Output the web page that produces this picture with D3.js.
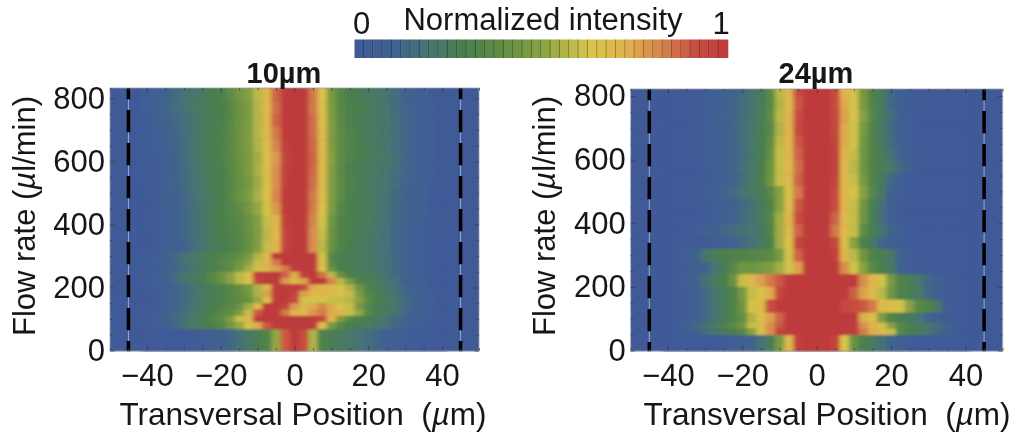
<!DOCTYPE html>
<html>
<head>
<meta charset="utf-8">
<script src="https://cdn.jsdelivr.net/npm/d3@7"></script>
<style>
    html, body { margin: 0; padding: 0; background: #fff; }
    svg { display: block; }
    text { font-family: "Liberation Sans", Arial, sans-serif; fill: #161616; }
    .domain { display: none; }
    .tick line { stroke: #3a3a3a; stroke-width: 0.7; }
</style>
</head>
<body>
<div id="chart"></div>
<script>
// =======================
// Data
// =======================
// transversal position of each column, um
const positions = [-40, -37.5, -35, -32.5, -30, -27.5, -25, -22.5, -20, -17.5, -15, -12.5, -10, -7.5, -5, -2.5, 0,
    2.5, 5, 7.5, 10, 12.5, 15, 17.5, 20, 22.5, 25, 27.5, 30, 32.5, 35, 37.5, 40];

const channelWalls = [-45, 45];

const xMajor = [-40, -20, 0, 20, 40];
const xMinor = [-50, -45, -35, -30, -25, -15, -10, -5, 5, 10, 15, 25, 30, 35, 45, 50];
const yMajor = [0, 200, 400, 600, 800];
const yMinor = [50, 100, 150, 250, 300, 350, 450, 500, 550, 650, 700, 750];

// row edges in ul/min, top to bottom (one more than rows)
const edges10 = [850, 790, 750, 710, 670, 630, 590, 550, 510, 470, 430, 390, 350, 310,
    290, 270, 250, 230, 210, 190, 170, 150, 130, 110, 90, 67, -20];

// intensity in percent, top row first
const intensity10 = [
    [3,8,12,15,18,21,24,28,31,38,45,49,58,72,88,100,100,100,84,64,46,35,30,28,24,22,19,16,12,8,5,2,0],
    [4,9,13,16,19,22,25,28,30,36,42,47,57,70,86,100,100,100,84,66,47,36,31,29,26,23,20,16,13,9,5,3,0],
    [2,6,10,14,17,20,24,27,30,36,43,47,57,71,88,100,100,100,86,68,48,37,31,28,25,23,20,17,13,9,6,3,0],
    [1,5,9,13,17,20,24,28,31,37,43,48,57,70,84,100,100,100,86,70,48,38,32,29,25,22,20,17,14,10,6,3,0],
    [1,5,9,12,16,20,24,28,31,37,43,48,56,68,82,98,100,100,87,70,48,38,33,30,26,24,20,17,14,10,6,3,0],
    [1,4,8,12,16,20,24,27,31,36,42,47,54,66,78,96,100,100,88,72,50,38,32,29,26,24,22,18,14,10,7,3,0],
    [1,4,8,12,15,19,23,27,30,36,41,47,55,68,80,97,100,100,87,70,48,37,31,28,25,22,20,17,13,10,6,3,0],
    [0,3,7,11,15,19,23,27,30,35,41,45,53,67,80,98,100,100,86,70,48,38,32,28,25,22,20,16,13,9,5,2,0],
    [0,3,7,10,14,18,22,26,30,36,42,47,55,66,82,100,100,100,84,68,48,38,31,27,25,22,19,15,12,8,5,2,0],
    [0,2,6,10,13,17,22,26,30,34,39,45,52,62,78,100,100,100,84,66,47,35,31,28,25,22,19,15,12,8,5,2,0],
    [0,2,5,9,13,17,21,26,30,33,36,42,49,60,72,98,100,100,82,62,44,33,30,28,25,21,18,14,11,8,4,2,0],
    [0,2,5,9,13,17,21,25,29,32,35,41,48,58,70,96,100,100,80,60,43,33,30,27,24,21,17,14,11,7,4,2,0],
    [0,2,5,8,12,16,20,24,28,31,35,41,49,60,72,96,100,100,80,58,42,32,29,26,23,20,17,14,10,6,3,1,0],
    [1,5,10,14,19,23,26,30,33,36,40,46,56,70,100,100,100,100,100,62,34,28,27,26,24,21,18,15,11,7,3,1,0],
    [1,4,9,13,18,22,27,31,35,39,44,50,60,72,84,100,100,100,100,66,36,30,28,26,24,21,18,15,11,7,3,1,0],
    [1,4,9,13,17,21,25,29,33,38,46,54,62,72,76,84,100,100,100,64,42,30,27,26,24,21,18,14,10,6,3,1,0],
    [1,5,10,15,20,24,28,34,42,50,58,70,100,100,100,88,74,98,100,86,58,42,31,28,26,23,19,15,11,7,4,1,0],
    [1,5,10,15,19,23,28,34,42,50,58,66,95,100,100,78,72,76,100,100,82,58,46,33,28,25,21,16,12,8,4,2,0],
    [0,3,7,11,15,19,23,27,31,36,40,46,56,70,100,100,100,92,74,72,70,62,56,44,32,27,23,18,13,9,5,2,0],
    [0,3,7,11,15,19,23,27,31,35,39,44,56,76,100,100,96,76,72,72,70,66,60,48,34,28,24,19,14,10,6,3,0],
    [0,3,7,11,15,19,23,27,30,34,38,42,52,66,100,100,94,66,62,62,60,60,58,50,38,30,25,20,15,11,6,3,0],
    [0,3,8,12,16,20,24,28,32,36,42,54,70,100,100,96,78,70,74,82,74,64,60,46,34,28,24,20,15,11,6,3,0],
    [1,4,9,13,17,21,25,30,34,40,48,60,90,100,100,84,72,70,78,84,74,72,60,52,36,29,24,19,14,10,6,3,0],
    [1,5,10,15,19,24,28,33,38,48,60,72,100,100,100,100,100,100,100,92,72,48,36,31,27,23,19,15,11,8,4,2,0],
    [1,4,9,13,18,22,26,30,35,44,52,62,74,90,100,100,100,100,100,66,46,34,30,27,25,21,18,14,10,6,3,1,0],
    [0,0,0,0,0,2,4,7,10,13,18,23,28,33,52,90,100,92,56,32,28,25,22,19,16,13,9,6,3,1,0,0,0]
];

const edges24 = [850, 797, 757, 717, 677, 637, 597, 557, 517, 477, 437, 397, 357, 320, 279, 240, 200, 160, 119, 88, 69, 48, -20];

const intensity24 = [
    [0,0,0,0,3,6,9,12,15,20,26,36,58,72,94,100,100,100,92,72,62,45,32,24,14,6,2,0,0,0,0,0,0],
    [0,0,0,0,3,6,9,13,16,20,26,36,56,70,90,100,100,100,92,74,62,46,33,25,14,6,2,0,0,0,0,0,0],
    [0,0,0,0,3,7,10,13,16,21,27,38,58,72,92,100,100,100,94,76,64,50,34,26,16,8,3,0,0,0,0,0,0],
    [0,0,0,1,4,7,10,13,17,21,27,36,56,72,94,100,100,100,94,74,62,46,33,24,15,7,3,0,0,0,0,0,0],
    [0,0,0,1,4,7,10,13,17,22,28,38,58,72,90,100,100,100,96,74,62,44,32,24,16,8,3,0,0,0,0,0,0],
    [0,0,0,0,3,6,9,12,16,21,28,40,60,72,88,100,100,100,98,72,60,44,32,26,18,10,4,0,0,0,0,0,0],
    [0,0,0,0,3,6,9,13,17,22,29,42,60,70,86,100,100,100,98,70,58,44,32,27,22,15,5,1,0,0,0,0,0],
    [0,0,0,0,2,5,8,12,16,22,30,44,60,70,88,100,100,100,96,70,60,46,32,24,14,6,2,0,0,0,0,0,0],
    [0,0,0,1,3,6,11,15,19,23,27,36,50,62,84,100,100,100,92,70,62,50,34,22,10,3,0,0,0,0,0,0,0],
    [0,0,0,0,2,4,7,10,14,18,24,32,50,68,90,100,100,100,92,72,60,44,30,18,8,2,0,0,0,0,0,0,0],
    [0,0,0,0,2,4,8,11,15,19,26,34,54,72,92,100,100,100,88,70,60,44,28,16,6,1,0,0,0,0,0,0,0],
    [0,0,1,3,7,10,14,16,18,20,24,32,54,70,88,100,100,100,84,70,60,38,28,20,12,6,2,0,0,0,0,0,0],
    [0,0,0,0,0,3,7,10,14,18,22,30,54,64,96,100,100,100,94,68,50,30,22,14,6,2,0,0,0,0,0,0,0],
    [0,2,6,12,20,26,30,32,32,34,36,38,46,62,88,100,100,100,98,72,58,44,32,28,22,10,3,0,0,0,0,0,0],
    [0,0,2,6,12,20,26,36,44,44,46,48,54,62,76,100,100,100,100,80,62,50,36,30,24,12,3,0,0,0,0,0,0],
    [0,2,6,12,18,24,30,42,60,72,76,84,90,100,100,100,100,100,100,100,100,80,72,62,46,33,28,22,14,8,3,0,0],
    [0,0,3,8,14,20,26,32,46,60,66,74,96,100,100,100,100,100,100,100,88,76,70,58,44,32,28,24,14,6,2,0,0],
    [0,0,3,8,14,20,26,33,44,62,68,92,100,100,100,100,100,100,100,94,92,90,84,70,68,62,50,36,32,22,6,0,0],
    [0,0,3,8,14,20,26,32,40,56,66,76,88,100,100,100,100,100,100,100,100,74,66,48,33,28,24,20,12,5,1,0,0],
    [0,3,8,14,20,24,32,38,44,60,70,80,90,100,100,100,100,100,100,100,100,80,72,62,50,36,30,26,22,16,10,3,0],
    [0,2,6,10,16,20,24,28,36,50,62,80,96,100,100,100,100,100,100,100,100,84,74,70,60,36,30,26,20,14,8,3,0],
    [0,0,0,0,0,0,2,5,8,12,18,26,46,70,98,100,100,100,96,64,42,30,24,18,12,7,3,0,0,0,0,0,0]
];

// =======================
// Colour map, as in the colour bar
// =======================
const colorStops = [0, 12, 20, 30, 40, 50, 55, 63, 72, 82, 92, 100];
const colorValues = ["#3f5a98", "#41648e", "#47756f", "#4a804c", "#628e42", "#86a042",
    "#a9b046", "#d8c64b", "#e0b54d", "#d6864e", "#c74c40", "#bf3b3b"];
const color = d3.scaleLinear().domain(colorStops).range(colorValues).clamp(true);

const barSegments = d3.range(40);

const width = 1016;
const height = 434;

const svg = d3.select("#chart")
    .append("svg")
    .attr("width", width)
    .attr("height", height);

const defs = svg.append("defs");

// the picture is a soft scan: columns melt together, rows stay sharper
defs.append("filter")
    .attr("id", "soft")
    .attr("x", "-5%").attr("y", "-5%").attr("width", "110%").attr("height", "110%")
    .append("feGaussianBlur")
    .attr("stdDeviation", "2.2 1");

defs.append("filter")
    .attr("id", "scan")
    .attr("filterUnits", "userSpaceOnUse")
    .attr("x", 0).attr("y", 0).attr("width", width).attr("height", height)
    .append("feGaussianBlur")
    .attr("stdDeviation", 0.4);

const root = svg.append("g").attr("filter", "url(#scan)");

// =======================
// Colour bar
// =======================
const barX = d3.scaleBand().domain(barSegments).range([354.5, 728]);
const bar = root.append("g").attr("class", "colorbar");

bar.selectAll("rect")
    .data(barSegments)
    .enter()
    .append("rect")
    .attr("x", d => barX(d))
    .attr("y", 39.5)
    .attr("width", barX.bandwidth() + 0.3)
    .attr("height", 18.5)
    .attr("fill", d => color((d + 0.5) * 100 / barSegments.length));

bar.selectAll("line")
    .data(barSegments.slice(1))
    .enter()
    .append("line")
    .attr("x1", d => barX(d) - 0.5)
    .attr("x2", d => barX(d) - 0.5)
    .attr("y1", 39.5)
    .attr("y2", 58)
    .attr("stroke", "#000")
    .attr("stroke-opacity", 0.3);

root.append("text").attr("x", 543).attr("y", 30).attr("text-anchor", "middle")
    .style("font-size", "31px").text("Normalized intensity");
root.append("text").attr("x", 361.5).attr("y", 34).attr("text-anchor", "middle")
    .style("font-size", "31px").text("0");
root.append("text").attr("x", 721).attr("y", 34).attr("text-anchor", "middle")
    .style("font-size", "31px").text("1");

// =======================
// One heat map panel
// =======================
function drawPanel(p) {
    const x = d3.scaleLinear().domain([-50, 50]).range([p.left, p.right]);
    const y = d3.scaleLinear().domain([0, 800]).range([p.y0, p.y800]);

    const g = root.append("g").attr("class", "panel");

    defs.append("clipPath").attr("id", p.id)
        .append("rect")
        .attr("x", p.left).attr("y", p.top)
        .attr("width", p.right - p.left).attr("height", p.y0 - p.top + 1);

    const plot = g.append("g").attr("clip-path", `url(#${p.id})`);

    plot.append("rect")
        .attr("x", p.left).attr("y", p.top)
        .attr("width", p.right - p.left).attr("height", p.y0 - p.top + 1)
        .attr("fill", color(0));

    const cells = plot.append("g").attr("filter", "url(#soft)");
    const colW = x(2.5) - x(0);

    p.rows.forEach((row, r) => {
        cells.selectAll(null)
            .data(row)
            .enter()
            .append("rect")
            .attr("x", (d, i) => x(positions[i]) - colW / 2)
            .attr("y", y(p.edges[r]))
            .attr("width", colW + 0.4)
            .attr("height", y(p.edges[r + 1]) - y(p.edges[r]) + 0.4)
            .attr("fill", d => color(d));
    });

    // channel walls: thin pale line under the black dashes
    plot.selectAll(".wall-line")
        .data(channelWalls)
        .enter()
        .append("line")
        .attr("class", "wall-line")
        .attr("x1", d => x(d)).attr("x2", d => x(d))
        .attr("y1", p.top).attr("y2", p.y0)
        .attr("stroke", "#8fa8d8")
        .attr("stroke-width", 1);

    plot.selectAll(".wall")
        .data(channelWalls)
        .enter()
        .append("line")
        .attr("class", "wall")
        .attr("x1", d => x(d)).attr("x2", d => x(d))
        .attr("y1", p.top).attr("y2", p.y0 + 1)
        .attr("stroke", "#050505")
        .attr("stroke-width", 3.6)
        .attr("stroke-dasharray", "22.2 10.8")
        .attr("stroke-dashoffset", 11);

    // frame
    g.append("rect")
        .attr("x", p.left).attr("y", p.top)
        .attr("width", p.right - p.left).attr("height", p.y0 - p.top + 0.5)
        .attr("fill", "none")
        .attr("stroke", "#9a9fa8")
        .attr("stroke-width", 0.8);

    // ticks on all four sides, pointing in
    const xFormat = d3.format("d");
    g.append("g").attr("transform", `translate(0,${p.y0})`)
        .call(d3.axisBottom(x).tickValues(xMajor).tickSize(-4.5).tickPadding(13).tickFormat(xFormat));
    g.append("g").attr("transform", `translate(0,${p.y0})`)
        .call(d3.axisBottom(x).tickValues(xMinor).tickSize(-2.5).tickFormat(""));
    g.append("g").attr("transform", `translate(0,${p.top})`)
        .call(d3.axisTop(x).tickValues(xMajor).tickSize(-4.5).tickFormat(""));
    g.append("g").attr("transform", `translate(0,${p.top})`)
        .call(d3.axisTop(x).tickValues(xMinor).tickSize(-2.5).tickFormat(""));

    g.append("g").attr("transform", `translate(${p.left},0)`)
        .call(d3.axisLeft(y).tickValues(yMajor).tickSize(-4.5).tickPadding(5));
    g.append("g").attr("transform", `translate(${p.left},0)`)
        .call(d3.axisLeft(y).tickValues(yMinor).tickSize(-2.5).tickFormat(""));
    g.append("g").attr("transform", `translate(${p.right},0)`)
        .call(d3.axisRight(y).tickValues(yMajor).tickSize(-4.5).tickFormat(""));
    g.append("g").attr("transform", `translate(${p.right},0)`)
        .call(d3.axisRight(y).tickValues(yMinor).tickSize(-2.5).tickFormat(""));

    g.selectAll(".tick text").attr("fill", "#161616")
        .style("font-family", '"Liberation Sans", Arial, sans-serif')
        .style("font-size", "31px");

    // titles
    g.append("text")
        .attr("x", p.titleX).attr("y", 83)
        .attr("text-anchor", "middle")
        .style("font-size", "29px").style("font-weight", "bold")
        .text(p.title);

    const xLabel = g.append("text")
        .attr("x", p.xLabelX).attr("y", 425)
        .attr("text-anchor", "middle")
        .style("font-size", "31.5px");
    xLabel.append("tspan").text("Transversal Position\u00a0\u00a0(");
    xLabel.append("tspan").style("font-style", "italic").text("\u00b5");
    xLabel.append("tspan").text("m)");

    const yLabel = g.append("text")
        .attr("transform", `translate(${p.yLabelX},216) rotate(-90)`)
        .attr("text-anchor", "middle")
        .style("font-size", "31px");
    yLabel.append("tspan").text("Flow rate (");
    yLabel.append("tspan").style("font-style", "italic").text("\u00b5");
    yLabel.append("tspan").text("l/min)");
}

drawPanel({
    id: "clip10", title: "10\u00b5m", rows: intensity10, edges: edges10,
    left: 110, right: 479, top: 88, y0: 350.5, y800: 98.3,
    titleX: 284, xLabelX: 303, yLabelX: 35
});

drawPanel({
    id: "clip24", title: "24\u00b5m", rows: intensity24, edges: edges24,
    left: 630.7, right: 1002.7, top: 89, y0: 350.5, y800: 96,
    titleX: 816, xLabelX: 827, yLabelX: 555
});
</script>
</body>
</html>
